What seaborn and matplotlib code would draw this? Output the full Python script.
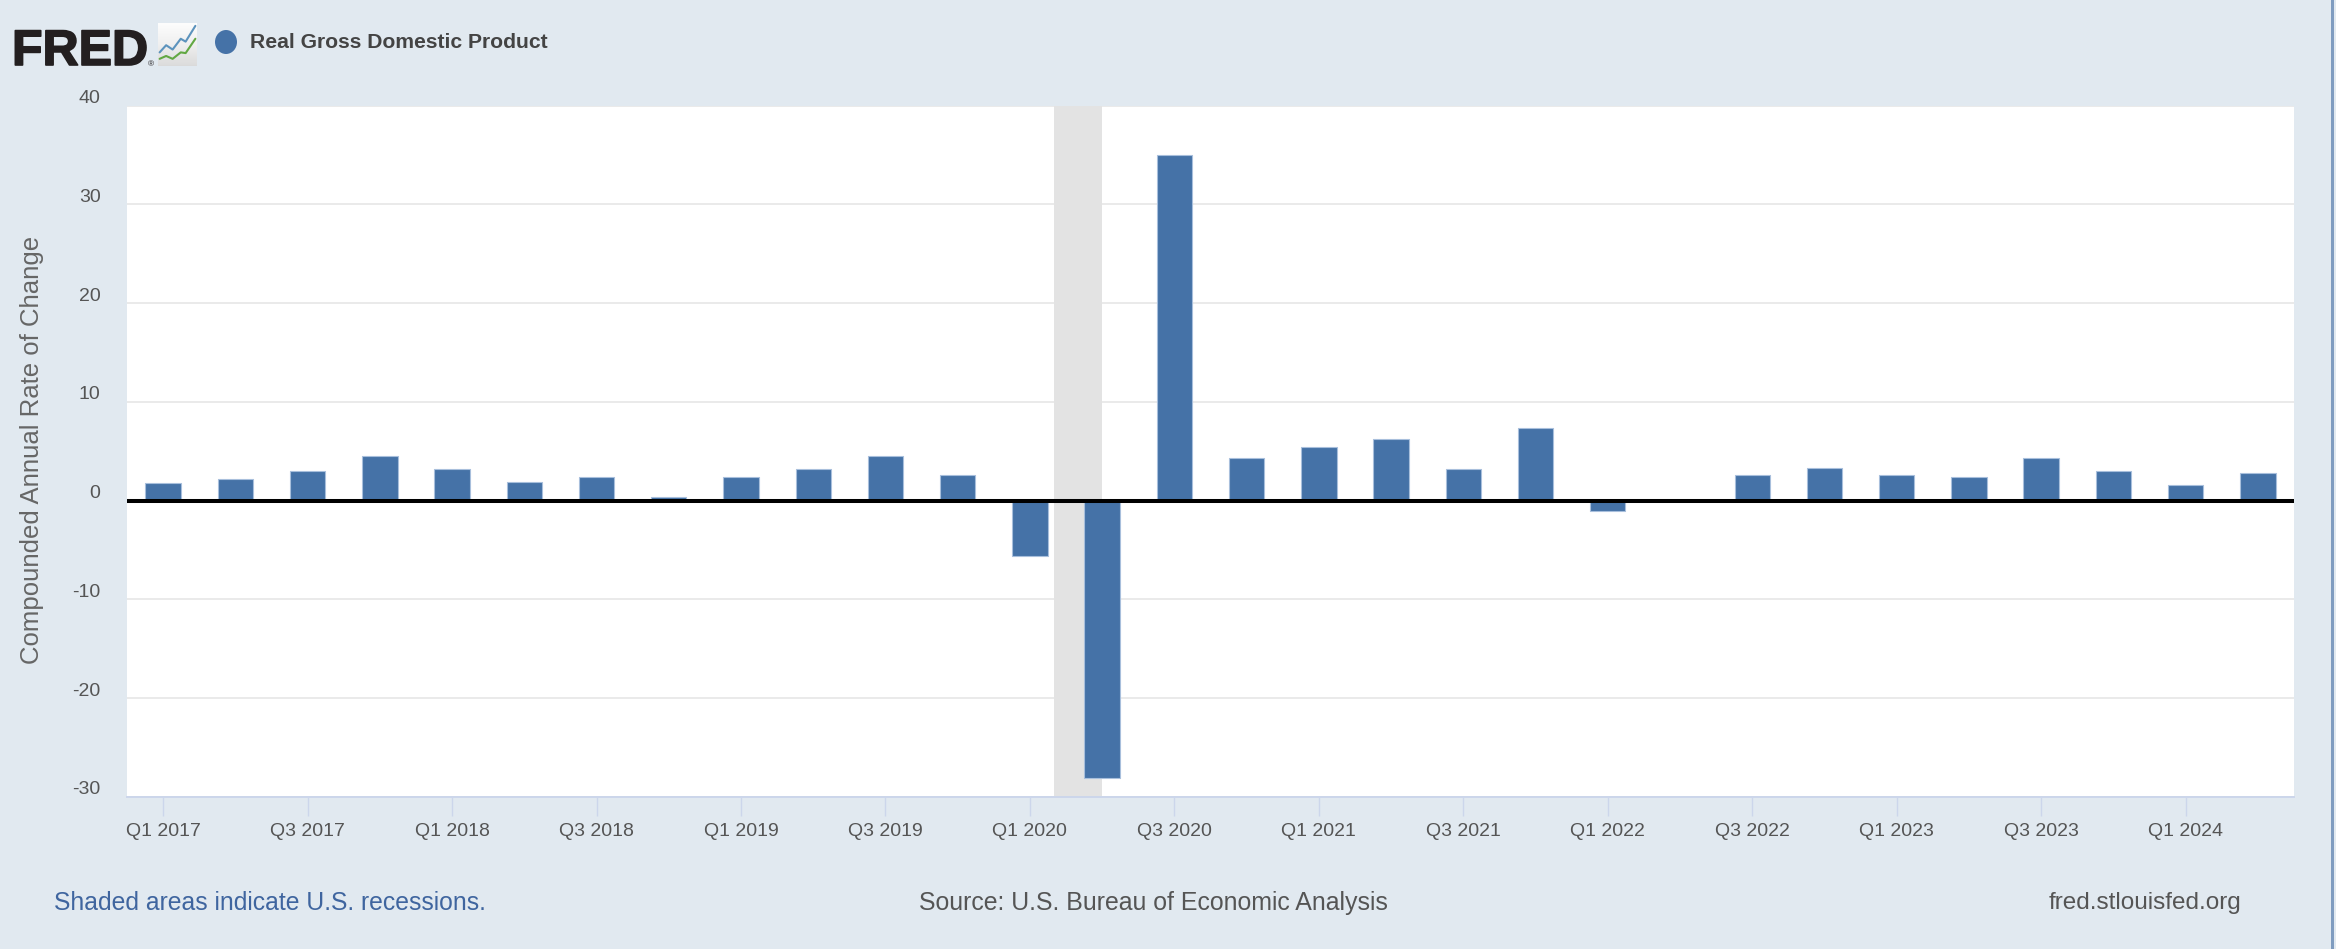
import numpy as np
import pandas as pd
import seaborn as sns
import matplotlib.pyplot as plt
import matplotlib.patheffects as pe
from matplotlib.patches import Rectangle, Ellipse
from matplotlib.transforms import ScaledTranslation

quarters = ['Q1 2017', 'Q2 2017', 'Q3 2017', 'Q4 2017', 'Q1 2018', 'Q2 2018', 'Q3 2018', 'Q4 2018',
            'Q1 2019', 'Q2 2019', 'Q3 2019', 'Q4 2019', 'Q1 2020', 'Q2 2020', 'Q3 2020', 'Q4 2020',
            'Q1 2021', 'Q2 2021', 'Q3 2021', 'Q4 2021', 'Q1 2022', 'Q2 2022', 'Q3 2022', 'Q4 2022',
            'Q1 2023', 'Q2 2023', 'Q3 2023', 'Q4 2023', 'Q1 2024', 'Q2 2024']
growth = [1.8, 2.2, 3.0, 4.5, 3.2, 1.9, 2.4, 0.4,
          2.4, 3.2, 4.5, 2.6, -5.6, -28.1, 35.0, 4.3,
          5.4, 6.2, 3.2, 7.3, -1.1, 0.0, 2.6, 3.3,
          2.6, 2.4, 4.3, 3.0, 1.6, 2.8]
y_ticks = [-30, -20, -10, 0, 10, 20, 30, 40]
recession = [12.33, 13.0]  # in quarter positions
icon_x = [0, 2, 4, 6.5, 8, 11]
icon_blue = [1.9, 2.9, 2.3, 3.8, 3.4, 5.6]
icon_green = [1.0, 1.4, 1.0, 1.9, 1.8, 3.8]

W, H = 2336, 949
BG = '#e1e9f0'
BAR = '#4572a7'

sns.set_theme(style='white')
plt.rcParams['font.family'] = ['Liberation Sans', 'DejaVu Sans']

fig = plt.figure(figsize=(W / 100, H / 100), dpi=100, facecolor=BG)
ax = fig.add_axes([127 / W, 1 - 796.8 / H, (2294 - 127) / W, (796.8 - 105.5) / H], facecolor='white')

df = pd.DataFrame({'quarter': quarters, 'growth': growth})
sns.barplot(data=df, x='quarter', y='growth', order=quarters, color=BAR, saturation=1,
            width=0.49, edgecolor='#a8bfdc', linewidth=0.8, ax=ax, zorder=3)

ax.set_xlim(-0.5, len(quarters) - 0.5)
ax.set_ylim(-30, 40)
ax.axvspan(recession[0], recession[1], color='#e3e3e3', lw=0, zorder=2)
ax.axhline(0, color='black', lw=2.9, zorder=4)

ax.set_yticks(y_ticks)
ax.set_yticklabels([str(v) for v in y_ticks])
ax.yaxis.grid(True, color='#e8e8e8', lw=1.3, zorder=1)
ax.set_axisbelow(True)
ax.tick_params(axis='y', length=0, pad=19, labelsize=14, labelcolor='#555555')
for t in ax.get_yticklabels():
    t.set_transform(t.get_transform() + ScaledTranslation(0, 9 / 100, fig.dpi_scale_trans))

ax.set_xticks(range(0, len(quarters), 2))
ax.set_xticklabels(quarters[::2])
ax.tick_params(axis='x', bottom=True, length=14, width=1, color='#ccd6eb', pad=5, labelsize=14, labelcolor='#555555')
ax.set_xlabel('')
ax.set_ylabel('')

for side in ['top', 'left', 'right']:
    ax.spines[side].set_visible(False)
ax.spines['bottom'].set_color('#ccd6eb')
ax.spines['bottom'].set_linewidth(1.4)

fig.text(32 / W, 1 - 450 / H, 'Compounded Annual Rate of Change', rotation=90, ha='center', va='center',
         fontsize=18.5, color='#666666')

# header
fig.text(12 / W, 1 - 65 / H, 'FRED', fontsize=36, fontweight='bold', color='#231f20', va='baseline', ha='left',
         path_effects=[pe.withStroke(linewidth=1.2, foreground='#231f20')])
fig.text(148 / W, 1 - 66 / H, '®', fontsize=6, color='#231f20', va='baseline', ha='left')
fig.add_artist(Ellipse((226 / W, 1 - 42 / H), 22 / W, 24 / H, transform=fig.transFigure, color=BAR, lw=0))
fig.text(250 / W, 1 - 42 / H, 'Real Gross Domestic Product', fontsize=15.2, fontweight='bold', color='#444444',
         va='center', ha='left')

icon = fig.add_axes([158 / W, 1 - 66 / H, 39 / W, 43 / H])
icon.imshow(np.linspace(0, 1, 40).reshape(-1, 1), cmap='Greys', vmin=-0.1, vmax=4.5, aspect='auto',
            extent=(-0.5, 11.5, 0, 6), zorder=0)
sns.lineplot(x=icon_x, y=icon_blue, color='#5c93bd', lw=1.5, ax=icon, zorder=2)
sns.lineplot(x=icon_x, y=icon_green, color='#62a843', lw=1.5, ax=icon, zorder=2)
icon.set_xlim(-0.5, 11.5)
icon.set_ylim(0, 6)
icon.set_xticks([])
icon.set_yticks([])
for s in icon.spines.values():
    s.set_visible(False)

# footer
fig.text(54 / W, 1 - 903 / H, 'Shaded areas indicate U.S. recessions.', fontsize=17.8, color='#3f659f',
         va='center', ha='left')
fig.text(919 / W, 1 - 903 / H, 'Source: U.S. Bureau of Economic Analysis', fontsize=17.9, color='#555555',
         va='center', ha='left')
fig.text(2241 / W, 1 - 903 / H, 'fred.stlouisfed.org', fontsize=17.5, color='#555555',
         va='center', ha='right')

# edge of the screenshot
fig.add_artist(Rectangle((2331 / W, 0), 3 / W, 1, transform=fig.transFigure, color='#7f9cc0', lw=0))

fig.savefig('out.png', dpi=100, facecolor=BG)
